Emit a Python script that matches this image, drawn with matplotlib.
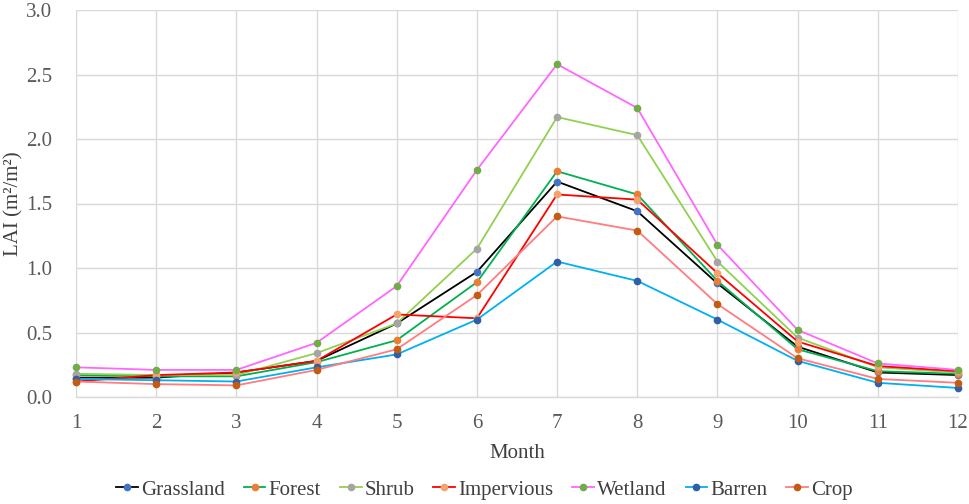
import matplotlib
matplotlib.use("Agg")
import matplotlib.pyplot as plt

months = list(range(1, 13))
series_names = ["Grassland", "Forest", "Shrub", "Impervious", "Wetland", "Barren", "Crop"]
grassland  = [0.15, 0.15, 0.19, 0.28, 0.57, 0.97, 1.67, 1.44, 0.88, 0.39, 0.19, 0.17]
forest     = [0.17, 0.16, 0.16, 0.27, 0.44, 0.89, 1.75, 1.57, 0.90, 0.37, 0.20, 0.18]
shrub      = [0.18, 0.17, 0.17, 0.34, 0.57, 1.15, 2.17, 2.03, 1.05, 0.46, 0.23, 0.19]
impervious = [0.12, 0.17, 0.19, 0.28, 0.64, 0.61, 1.57, 1.53, 0.96, 0.43, 0.24, 0.20]
wetland    = [0.23, 0.21, 0.21, 0.42, 0.86, 1.76, 2.58, 2.24, 1.18, 0.52, 0.26, 0.21]
barren     = [0.14, 0.13, 0.12, 0.23, 0.33, 0.60, 1.05, 0.90, 0.60, 0.28, 0.11, 0.07]
crop       = [0.12, 0.10, 0.09, 0.21, 0.37, 0.79, 1.40, 1.29, 0.72, 0.30, 0.14, 0.11]
values = [grassland, forest, shrub, impervious, wetland, barren, crop]
yticks = [0, 0.5, 1.0, 1.5, 2.0, 2.5, 3.0]

line_colors = ["#000000", "#00B050", "#92D050", "#FF0000", "#FF66FF", "#00B0F0", "#FF7C80"]
marker_colors = ["#4472C4", "#ED7D31", "#A5A5A5", "#F5A26B", "#70AD47", "#2E5FA8", "#C55A11"]

plt.rcParams['font.family'] = ['Liberation Serif', 'DejaVu Serif']

fig = plt.figure(figsize=(9.69, 5.04), dpi=100)
ax = fig.add_axes([76/969, 1-397/504, (958-76)/969, (397-10)/504])

for name, vals, lc, mc in zip(series_names, values, line_colors, marker_colors):
    ax.plot(months, vals, color=lc, lw=1.3, marker='o', ms=4.5,
            markerfacecolor=mc, markeredgecolor=mc, label=name, clip_on=False)

ax.set_xlim(1, 12)
ax.set_ylim(0, 3.0)
ax.set_xticks(months)
ax.set_yticks(yticks)
ax.set_yticklabels([f"{v:.1f}" for v in yticks])
ax.grid(True, color="#D9D9D9", lw=1.0)
ax.set_axisbelow(True)
for s in ["top", "right", "left"]:
    ax.spines[s].set_visible(False)
ax.spines["bottom"].set_color("#D9D9D9")
ax.spines["bottom"].set_linewidth(1.0)
ax.tick_params(axis='both', length=0, labelsize=15, colors="#595959")
ax.tick_params(axis='y', pad=17)
ax.tick_params(axis='x', pad=12)
ax.set_xlabel("Month", fontsize=15, color="#404040", labelpad=8)
ax.set_ylabel("LAI (m²/m²)", fontsize=15, color="#404040")
ax.yaxis.set_label_coords(-0.060, 0.5)

leg = fig.legend(loc='center', bbox_to_anchor=(0.5, 1-490/504), ncol=7, frameon=False,
                 fontsize=15, handlelength=1.05, handletextpad=0.15, columnspacing=0.9)
for t in leg.get_texts():
    t.set_color("#404040")

fig.savefig("out.png", dpi=100)
